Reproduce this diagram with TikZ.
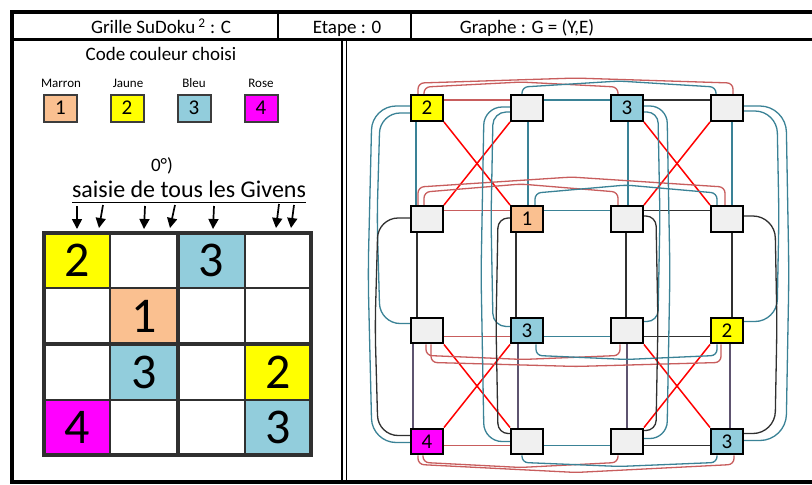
\documentclass[tikz,border=0pt]{standalone}
\usepackage{fontspec}
\setmainfont{Carlito}
\usetikzlibrary{calc,arrows.meta,backgrounds}

\definecolor{peach}{HTML}{FAC090}
\definecolor{sky}{HTML}{92CDDC}
\definecolor{lemon}{HTML}{FFFF00}
\definecolor{rose}{HTML}{FF00FF}
\definecolor{blank}{HTML}{F0F0F0}
\definecolor{brick}{HTML}{C85D5D}
\definecolor{tealc}{HTML}{3A8296}
\definecolor{ink}{HTML}{303030}
\definecolor{plum}{HTML}{5E5470}
\definecolor{rim}{HTML}{3C3C3C}

\begin{document}
\begin{tikzpicture}[x=1pt,y=-1pt,
  vtx/.style={draw=black,line width=2.4pt,minimum width=31.5pt,minimum height=25.5pt,
    inner sep=0pt,fill=blank,font=\fontsize{21}{21}\selectfont},
  keybox/.style={draw=rim,line width=2pt,minimum width=33pt,minimum height=27pt,
    inner sep=0pt,font=\fontsize{21}{21}\selectfont},
  keylabel/.style={anchor=base,font=\fontsize{13}{13}\selectfont},
  cellnum/.style={inner sep=0pt,font=\fontsize{50}{50}\selectfont},
  headtext/.style={anchor=base,font=\fontsize{19}{19}\selectfont},
  arr/.style={line width=1.7pt,-{Triangle[length=10pt,width=10pt]}},
  brickE/.style={draw=brick,line width=1.3pt},
  tealE/.style={draw=tealc,line width=1.3pt},
  inkE/.style={draw=ink,line width=1.3pt},
  plumE/.style={draw=plum,line width=1.2pt},
  redE/.style={draw=red,line width=1.5pt},
  arcV/.style n args={2}{rounded corners=6pt,to path={let \p1=(\tikztostart),\p2=(\tikztotarget) in
    (\tikztostart) -- (\x1,\y1+#1) -- ({(\x1+\x2)/2},\y1+#2) -- (\x2,\y2+#1) -- (\tikztotarget)}},
  sideArc/.style n args={3}{rounded corners=#3,to path={let \p1=(\tikztostart),\p2=(\tikztotarget) in
    (\tikztostart) -- (\x1+#1,\y1) -- (\x1+#1+#2,{(\y1+\y2)/2}) -- (\x2+#1,\y2) -- (\tikztotarget)}}
]
\useasboundingbox (0,0) rectangle (812,485);
\clip (0,0) rectangle (812,485);
\begin{scope}[on background layer]
  \fill[white] (0,0) rectangle (812,485);
\end{scope}

% ---- frame and header ----
\draw[line width=4pt] (12,11.5) rectangle (900,482);
\draw[line width=3pt] (12,39.5) -- (900,39.5);
\draw[line width=1.5pt] (278,11.5) -- (278,39.5);
\draw[line width=1.5pt] (411,11.5) -- (411,39.5);
\draw[line width=1.8pt] (342,39.5) -- (342,482);
\draw[line width=1.8pt] (346.5,39.5) -- (346.5,482);
\node[headtext] (h1) at (161,33.3) {Grille SuDoku\,\textsuperscript{2} : C};
\node[headtext] (h2) at (347,33.3) {Etape : 0};
\node[headtext] (h3) at (527,33.3) {Graphe : G = (Y,E)};

% ---- colour code ----
\node[anchor=base,font=\fontsize{19}{19}\selectfont] (code) at (161,60.7) {Code couleur choisi};
\node[keylabel] (l1) at (61,87) {Marron};
\node[keylabel] (l2) at (128,87) {Jaune};
\node[keylabel] (l3) at (194,87) {Bleu};
\node[keylabel] (l4) at (261,87) {Rose};
\node[keybox,fill=peach] (k1) at (60.5,108) {1};
\node[keybox,fill=lemon] (k2) at (127,108) {2};
\node[keybox,fill=sky] (k3) at (194,108) {3};
\node[keybox,fill=rose] (k4) at (261,108) {4};

% ---- givens ----
\node[anchor=base,font=\fontsize{19}{19}\selectfont] (step0) at (162,171) {0°)};
\node[anchor=base,font=\fontsize{24}{24}\selectfont] (givens) at (189,197) {saisie de tous les Givens};
\draw[line width=1.5pt] (72,202.5) -- (306,202.5);
\draw[arr] (77,206) -- (77,229);
\draw[arr] (103,205) -- (99,228);
\draw[arr] (145,206) -- (144,229);
\draw[arr] (175,205) -- (170,228);
\draw[arr] (214,206) -- (213,229);
\draw[arr] (279,204) -- (276,228);
\draw[arr] (294,205) -- (291,228);

% ---- sudoku grid ----
\fill[lemon] (44,233) rectangle (110,288);
\fill[sky] (178,233) rectangle (245,288);
\fill[peach] (110,288) rectangle (178,344);
\fill[sky] (110,344) rectangle (178,400);
\fill[lemon] (245,344) rectangle (311,400);
\fill[rose] (44,400) rectangle (110,455);
\fill[sky] (245,400) rectangle (311,455);
\node[cellnum] (g00) at (77,260.5) {2};
\node[cellnum] (g02) at (211.5,260.5) {3};
\node[cellnum] (g11) at (144,316) {1};
\node[cellnum] (g21) at (144,372) {3};
\node[cellnum] (g23) at (278,372) {2};
\node[cellnum] (g30) at (77,427.5) {4};
\node[cellnum] (g33) at (278,427.5) {3};
\draw[line width=2pt,ink] (110,233) -- (110,455) (245,233) -- (245,455)
  (44,288) -- (311,288) (44,400) -- (311,400);
\draw[line width=4pt,ink] (178,233) -- (178,455) (44,344) -- (311,344);
\draw[line width=4pt,ink] (44,233) rectangle (311,455);

% ---- constraint graph: vertices ----
\node[vtx,fill=lemon] (n00) at (427,108) {2};
\node[vtx] (n01) at (527,108) {};
\node[vtx,fill=sky] (n02) at (627,108) {3};
\node[vtx] (n03) at (727,108) {};
\node[vtx] (n10) at (427,219) {};
\node[vtx,fill=peach] (n11) at (527,219) {1};
\node[vtx] (n12) at (627,219) {};
\node[vtx] (n13) at (727,219) {};
\node[vtx] (n20) at (427,330.5) {};
\node[vtx,fill=sky] (n21) at (527,330.5) {3};
\node[vtx] (n22) at (627,330.5) {};
\node[vtx,fill=lemon] (n23) at (727,330.5) {2};
\node[vtx,fill=rose] (n30) at (427,441.5) {4};
\node[vtx] (n31) at (527,441.5) {};
\node[vtx] (n32) at (627,441.5) {};
\node[vtx,fill=sky] (n33) at (727,441.5) {3};

% ---- constraint graph: edges ----
\begin{scope}[on background layer]
  % rows, neighbours
  \foreach \r/\d in {0/8pt,1/8.5pt,2/-6pt,3/-4pt}{
    \draw[brickE] ([yshift=\d]n\r0.east) -- ([yshift=\d]n\r1.west);
    \draw[tealE] ([yshift=\d]n\r1.east) -- ([yshift=\d]n\r2.west);
    \draw[inkE] ([yshift=\d]n\r2.east) -- ([yshift=\d]n\r3.west);
  }
  % columns, neighbours
  \foreach \c/\a/\b/\e in {0/-11pt/-10pt/-14pt,1/1pt/-11pt/-9pt,2/1pt/-1pt/0pt,3/5pt/5pt/3pt}{
    \draw[tealE] ([xshift=\a]n0\c.south) -- ([xshift=\a]n1\c.north);
    \draw[inkE] ([xshift=\b]n1\c.south) -- ([xshift=\b]n2\c.north);
    \draw[plumE] ([xshift=\e]n2\c.south) -- ([xshift=\e]n3\c.north);
  }
  % boxes, diagonals
  \draw[redE] (n00.south east) -- (n11.north west);
  \draw[redE] (n01.south west) -- (n10.north east);
  \draw[redE] (n02.south east) -- (n13.north west);
  \draw[redE] (n03.south west) -- (n12.north east);
  \draw[redE] (n20.south east) -- (n31.north west);
  \draw[redE] (n21.south west) -- (n30.north east);
  \draw[redE] (n22.south east) -- (n33.north west);
  \draw[redE] (n23.south west) -- (n32.north east);
  % rows, arcs above
  \draw[brickE] ([xshift=-9pt]n00.north) to[arcV={11pt}{16pt}] ([xshift=6pt]n03.north);
  \draw[brickE] ([xshift=-3pt]n00.north) to[arcV={7pt}{12pt}] ([xshift=-9pt]n02.north);
  \draw[tealE] ([xshift=-5pt]n01.north) to[arcV={7pt}{13pt}] ([xshift=-11pt]n03.north);
  \draw[brickE] ([xshift=-9pt]n10.north) to[arcV={18pt}{28pt}] ([xshift=-2pt]n13.north);
  \draw[brickE] ([xshift=-3pt]n10.north) to[arcV={13pt}{21pt}] ([xshift=-9pt]n12.north);
  \draw[tealE] ([xshift=8pt]n11.north) to[arcV={12pt}{20pt}] ([xshift=-10pt]n13.north);
  % rows, arcs below
  \draw[brickE] ([xshift=-1pt]n20.south) to[arcV={-11pt}{-15pt}] ([xshift=-7pt]n22.south);
  \draw[brickE] ([xshift=4pt]n20.south) to[arcV={-18pt}{-22pt}] ([xshift=-6pt]n23.south);
  \draw[tealE] ([xshift=9pt]n21.south) to[arcV={-11pt}{-15pt}] ([xshift=-10pt]n23.south);
  \draw[brickE] ([xshift=-9pt]n30.south) to[arcV={-9pt}{-17pt}] ([xshift=7pt]n33.south);
  \draw[brickE] ([xshift=-4pt]n30.south) to[arcV={-7pt}{-12pt}] ([xshift=-9pt]n32.south);
  \draw[tealE] ([xshift=-5pt]n31.south) to[arcV={-7pt}{-11pt}] ([xshift=-10pt]n33.south);
  % columns, arcs at the sides
  \draw[tealE] ([yshift=2pt]n00.west) to[sideArc={-38pt}{-4pt}{24pt}] ([yshift=-1pt]n30.west);
  \draw[tealE] ([yshift=-5pt]n00.west) to[sideArc={-30pt}{-3pt}{20pt}] ([yshift=7pt]n20.west);
  \draw[inkE] ([yshift=1pt]n10.west) to[sideArc={-32pt}{-3pt}{20pt}] ([yshift=6pt]n30.west);
  \draw[tealE] ([yshift=1pt]n01.west) to[sideArc={-26pt}{-3pt}{18pt}] (n31.west);
  \draw[tealE] ([yshift=-4pt]n01.west) to[sideArc={-17pt}{-2pt}{13pt}] ([yshift=4pt]n21.west);
  \draw[inkE] ([yshift=1pt]n11.west) to[sideArc={-12pt}{-2pt}{10pt}] ([yshift=8pt]n31.west);
  \draw[tealE] ([yshift=2pt]n02.east) to[sideArc={23pt}{3pt}{17pt}] ([yshift=3pt]n32.east);
  \draw[tealE] ([yshift=-4pt]n02.east) to[sideArc={14pt}{2pt}{11pt}] ([yshift=9pt]n22.east);
  \draw[inkE] ([yshift=3pt]n12.east) to[sideArc={12pt}{2pt}{10pt}] ([yshift=11pt]n32.east);
  \draw[tealE] ([yshift=2pt]n03.east) to[sideArc={42pt}{3pt}{26pt}] ([yshift=1pt]n33.east);
  \draw[tealE] ([yshift=-3pt]n03.east) to[sideArc={33pt}{2pt}{22pt}] ([yshift=9pt]n23.east);
  \draw[inkE] ([yshift=3pt]n13.east) to[sideArc={31pt}{2pt}{22pt}] ([yshift=8pt]n33.east);
\end{scope}
\end{tikzpicture}
\end{document}
